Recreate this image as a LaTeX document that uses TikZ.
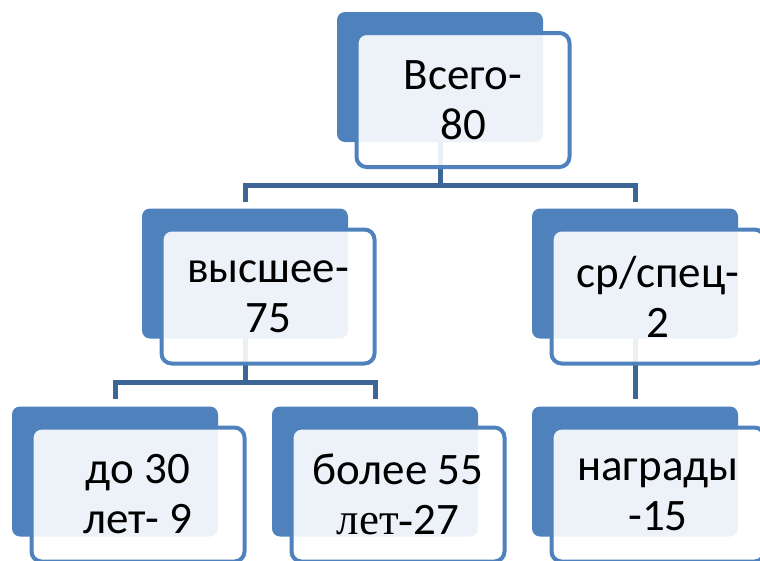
\documentclass[tikz,border=0pt]{standalone}
\usepackage{fontspec}
\setmainfont{Carlito}
\newfontfamily\serifpart{Liberation Serif}
\usetikzlibrary{calc}

\definecolor{boxblue}{HTML}{4F81BD}
\definecolor{linkblue}{HTML}{3C6696}

\begin{document}
\begin{tikzpicture}[
        x=1pt, y=-1pt, % координаты в пикселях, ось y вниз
        font=\fontsize{45}{50}\selectfont,
        % --- Стили блоков и связей ---
        backbox/.style={fill=boxblue, rounded corners=8pt, inner sep=0pt,
            minimum width=206pt, minimum height=130pt},
        frontbox/.style={draw=boxblue, line width=4pt, fill=white,
            fill opacity=0.9, text opacity=1, rounded corners=10pt,
            inner sep=0pt, align=center,
            minimum width=213pt, minimum height=134pt},
        link/.style={draw=linkblue, line width=5pt},
    ]
        \useasboundingbox (0,0) rectangle (760,560);

        % --- 1. Задние (тёмные) прямоугольники ---
        \node[backbox] (vsegoB)   at (440,77)    {};
        \node[backbox] (vyssheeB) at (245,273.5) {};
        \node[backbox] (srspecB)  at (635,273.5) {};
        \node[backbox] (do30B)    at (115,471.5) {};
        \node[backbox] (bolee55B) at (375,471.5) {};
        \node[backbox] (nagradyB) at (635,471.5) {};

        % --- 2. Соединительные линии ---
        \coordinate (fork1) at (440,185);
        \coordinate (fork2) at (245,382);
        \draw[link] (vsegoB.south) -- (fork1);
        \draw[link, shorten >=6pt] (fork1) -| (vyssheeB.north);
        \draw[link, shorten >=6pt] (fork1) -| (srspecB.north);
        \draw[link] (vyssheeB.south) -- (fork2);
        \draw[link, shorten >=7pt] (fork2) -| (do30B.north);
        \draw[link, shorten >=7pt] (fork2) -| (bolee55B.north);
        \draw[link, shorten >=7pt] (srspecB.south) -- (nagradyB.north);

        % --- 3. Передние (светлые) блоки с текстом ---
        \node[frontbox] (vsego)   at ([shift={(23pt,-23pt)}]vsegoB.center)   {Всего-\\80};
        \node[frontbox] (vysshee) at ([shift={(23pt,-23pt)}]vyssheeB.center) {высшее-\\75};
        \node[frontbox] (srspec)  at ([shift={(23pt,-23pt)}]srspecB.center)  {ср/спец-\\2};
        \node[frontbox] (do30)    at ([shift={(23pt,-23pt)}]do30B.center)    {до 30\\лет- 9};
        \node[frontbox] (bolee55) at ([shift={(23pt,-23pt)}]bolee55B.center) {более 55\\{\serifpart лет-}27};
        \node[frontbox] (nagrady) at ([shift={(23pt,-23pt)}]nagradyB.center) {награды\\-15};

    \end{tikzpicture}
\end{document}
